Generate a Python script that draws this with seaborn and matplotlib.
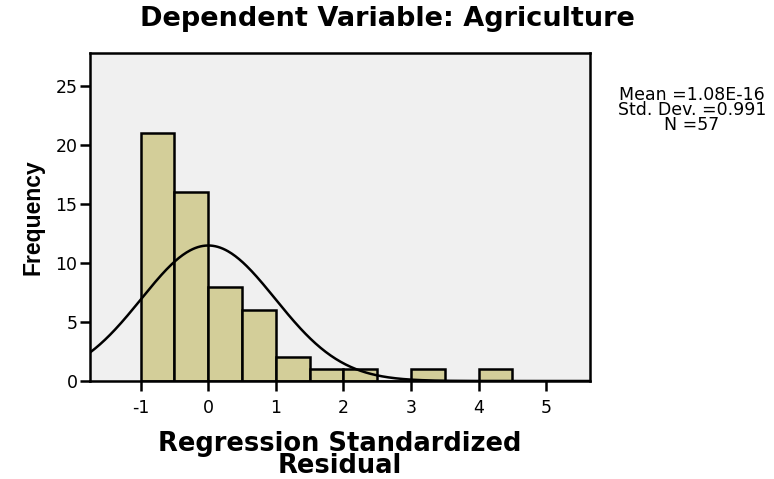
import numpy as np
import pandas as pd
import matplotlib
matplotlib.use("Agg")
import matplotlib.pyplot as plt
import seaborn as sns

# histogram bins (width 0.5) and frequencies
bin_edges = [-1.0, -0.5, 0.0, 0.5, 1.0, 1.5, 2.0, 2.5, 3.0, 3.5, 4.0, 4.5]
counts = [21, 16, 8, 6, 2, 1, 1, 0, 1, 0, 1]

# summary stats shown at the right
mean_val = 1.08e-16
std_val = 0.991
n_obs = 57
bin_width = 0.5

x_ticks = [-1, 0, 1, 2, 3, 4, 5]
y_ticks = [0, 5, 10, 15, 20, 25]

sns.set_style("white")
plt.rcParams["font.family"] = ["DejaVu Sans"]
plt.rcParams["text.color"] = "black"
plt.rcParams["axes.labelcolor"] = "black"
plt.rcParams["xtick.color"] = "black"
plt.rcParams["ytick.color"] = "black"

df = pd.DataFrame({
    "center": [(a + b) / 2 for a, b in zip(bin_edges[:-1], bin_edges[1:])],
    "count": counts,
})

fig = plt.figure(figsize=(7.74, 4.79), dpi=100)
ax = fig.add_axes([0.1163, 0.2046, 0.6460, 0.6854])
ax.set_facecolor("#F0F0F0")

sns.histplot(data=df, x="center", weights="count", bins=bin_edges,
             color="#D3CE99", edgecolor="black", linewidth=1.8, alpha=1, ax=ax)

# fitted normal curve scaled to frequencies
xs = np.linspace(-1.75, 5.65, 400)
curve = n_obs * bin_width / (std_val * np.sqrt(2 * np.pi)) * np.exp(-0.5 * ((xs - mean_val) / std_val) ** 2)
sns.lineplot(x=xs, y=curve, color="black", linewidth=1.8, ax=ax)

ax.set_xlim(-1.75, 5.65)
ax.set_ylim(0, 27.8)
ax.set_xticks(x_ticks)
ax.set_xticklabels([str(t) for t in x_ticks])
ax.set_yticks(y_ticks)
ax.tick_params(axis="both", direction="out", length=7, width=1.8, labelsize=12.5,
               color="black", bottom=True, left=True)
ax.tick_params(axis="x", pad=6)
ax.tick_params(axis="y", pad=2)
for s in ax.spines.values():
    s.set_linewidth(1.8)
    s.set_color("black")

ax.set_xlabel("Regression Standardized\nResidual", fontsize=18.5, fontweight="bold",
              linespacing=0.8, labelpad=10)
ax.set_ylabel("Frequency", fontsize=16.5, fontweight="bold", labelpad=8,
              family=["Liberation Sans"])
fig.text(0.5, 0.96, "Dependent Variable: Agriculture", ha="center", va="center",
         fontsize=19.5, fontweight="bold")

fig.text(0.894, 0.770, f"Mean ={mean_val:.2E}\nStd. Dev. ={std_val}\nN ={n_obs}",
         ha="center", va="center", multialignment="center", fontsize=12.5, linespacing=0.78)

plt.savefig("out.png", dpi=100)
